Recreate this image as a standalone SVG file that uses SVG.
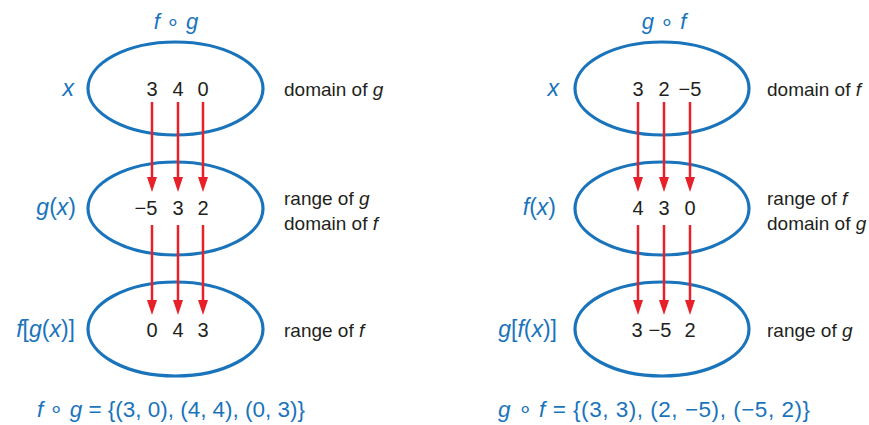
<svg xmlns="http://www.w3.org/2000/svg" width="869" height="425" viewBox="0 0 869 425">
<style>
.ell{fill:none;stroke:#1a74bb;stroke-width:3.2}
.num{font-family:"Liberation Sans",Arial,sans-serif;font-size:20px;fill:#231f20;text-anchor:middle}
.lab{font-family:"Liberation Sans",Arial,sans-serif;font-size:19px;fill:#231f20}
.var{font-family:"Liberation Sans",Arial,sans-serif;font-size:23px;fill:#1a74bb;font-style:italic;text-anchor:end}
.ttl{font-family:"Liberation Sans",Arial,sans-serif;font-size:22px;fill:#1a74bb;font-style:italic;text-anchor:middle}
.up{font-style:normal}
.frm{font-family:"Liberation Sans",Arial,sans-serif;font-size:22.5px;fill:#1a74bb}
.arr{stroke:#e8202a;stroke-width:2.5;fill:none;marker-end:url(#ah)}
.it{font-style:italic}
</style>
<defs>
<marker id="ah" markerUnits="userSpaceOnUse" markerWidth="16" markerHeight="10" refX="7" refY="5" orient="auto" viewBox="0 0 16 10">
<path d="M0,0 L15,5 L0,10 z" fill="#e8202a"/>
</marker>
</defs>

<!-- Left: f o g -->
<g id="title-fog"><text class="ttl" x="176" y="29">f <tspan class="up">∘</tspan> g</text></g>
<g id="L-top">
<ellipse class="ell" cx="175.5" cy="88.5" rx="87.5" ry="46.5"/>
<text class="num" x="152" y="96">3</text><text class="num" x="178" y="96">4</text><text class="num" x="203" y="96">0</text>
<text class="var" x="74" y="96">x</text>
<text class="lab" x="284" y="96">domain of <tspan class="it">g</tspan></text>
</g>
<g id="L-mid">
<ellipse class="ell" cx="175.5" cy="208.5" rx="87.5" ry="46.5"/>
<text class="num" x="146" y="215">−5</text><text class="num" x="178" y="215">3</text><text class="num" x="203" y="215">2</text>
<text class="var" x="76" y="215">g<tspan class="up">(</tspan>x<tspan class="up">)</tspan></text>
<text class="lab" x="284" y="205">range of <tspan class="it">g</tspan></text>
<text class="lab" x="284" y="230">domain of <tspan class="it">f</tspan></text>
</g>
<g id="L-bot">
<ellipse class="ell" cx="175.5" cy="329" rx="87.5" ry="47"/>
<text class="num" x="152" y="337">0</text><text class="num" x="178" y="337">4</text><text class="num" x="203" y="337">3</text>
<text class="var" x="75" y="337">f<tspan class="up">[</tspan>g<tspan class="up">(</tspan>x<tspan class="up">)]</tspan></text>
<text class="lab" x="284" y="337">range of <tspan class="it">f</tspan></text>
</g>
<g id="L-formula"><text class="frm" x="37" y="417" textLength="268" lengthAdjust="spacing"><tspan class="it">f</tspan> ∘ <tspan class="it">g</tspan> = {(3, 0), (4, 4), (0, 3)}</text></g>

<!-- Right: g o f -->
<g id="title-gof"><text class="ttl" x="664" y="29">g <tspan class="up">∘</tspan> f</text></g>
<g id="R-top">
<ellipse class="ell" cx="662" cy="88.5" rx="87" ry="46.5"/>
<text class="num" x="638" y="96">3</text><text class="num" x="664" y="96">2</text><text class="num" x="690" y="96">−5</text>
<text class="var" x="559" y="96">x</text>
<text class="lab" x="767" y="96">domain of <tspan class="it">f</tspan></text>
</g>
<g id="R-mid">
<ellipse class="ell" cx="662" cy="208.5" rx="87" ry="46.5"/>
<text class="num" x="638" y="215">4</text><text class="num" x="664" y="215">3</text><text class="num" x="690" y="215">0</text>
<text class="var" x="556" y="215">f<tspan class="up">(</tspan>x<tspan class="up">)</tspan></text>
<text class="lab" x="767" y="205">range of <tspan class="it">f</tspan></text>
<text class="lab" x="767" y="230">domain of <tspan class="it">g</tspan></text>
</g>
<g id="R-bot">
<ellipse class="ell" cx="662" cy="329" rx="87" ry="47"/>
<text class="num" x="637" y="337">3</text><text class="num" x="660" y="337">−5</text><text class="num" x="690" y="337">2</text>
<text class="var" x="557" y="337">g<tspan class="up">[</tspan>f<tspan class="up">(</tspan>x<tspan class="up">)]</tspan></text>
<text class="lab" x="767" y="337">range of <tspan class="it">g</tspan></text>
</g>
<g id="R-formula"><text class="frm" x="498" y="417" textLength="312" lengthAdjust="spacing"><tspan class="it">g</tspan> ∘ <tspan class="it">f</tspan> = {(3, 3), (2, −5), (−5, 2)}</text></g>

<g id="connectors">
<path class="arr" d="M152,102 V184"/><path class="arr" d="M178,102 V184"/><path class="arr" d="M203,102 V184"/>
<path class="arr" d="M152,225 V307"/><path class="arr" d="M178,225 V307"/><path class="arr" d="M203,225 V307"/>
<path class="arr" d="M638,102 V184"/><path class="arr" d="M664,102 V184"/><path class="arr" d="M690,102 V184"/>
<path class="arr" d="M638,225 V307"/><path class="arr" d="M664,225 V307"/><path class="arr" d="M690,225 V307"/>
</g>
</svg>
